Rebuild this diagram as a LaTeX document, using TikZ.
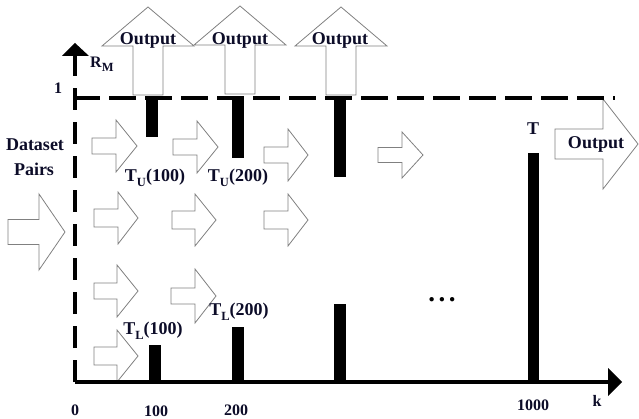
\documentclass[tikz,border=0pt]{standalone}
\usepackage{fontspec}
\setmainfont{Liberation Serif}
\definecolor{ink}{RGB}{12,12,40}
\definecolor{edge}{RGB}{128,128,128}
\newcommand\lowsub[1]{\raisebox{-0.25em}{\fontsize{12.5}{12.5}\selectfont #1}}
\begin{document}
\begin{tikzpicture}[x=1pt,y=-1pt,
  lbl/.style={font=\fontsize{18}{18}\selectfont\bfseries, text=ink, inner sep=0pt},
  ticklbl/.style={font=\fontsize{16}{16}\selectfont\bfseries, text=ink, inner sep=0pt},
  blk/.style={draw=edge, line width=0.8pt, fill=white, line join=miter},
  bar/.style={fill=black},
  pics/rarr/.style n args={4}{code={%
    \draw[blk] (0,-#4) -- ({#1-#2},-#4) -- ({#1-#2},-#3) -- (#1,0)
      -- ({#1-#2},#3) -- ({#1-#2},#4) -- (0,#4) -- cycle;}},
  pics/uarr/.style={code={%
    \draw[blk] (-15,88) -- (-15,39) -- (-46,39) -- (0,0) -- (46,39)
      -- (15,39) -- (15,88) -- cycle;}}
]
\useasboundingbox (0,0) rectangle (639,419);

% input arrow on the left
\pic at (8,232) {rarr={57}{26}{38}{12.5}};

% block arrows flowing between thresholds
\pic at (92,146)  {rarr={45}{21}{26}{8}};
\pic at (173,147) {rarr={45}{21}{26}{8}};
\pic at (264,155) {rarr={44}{20}{26}{8}};
\pic at (378,155) {rarr={45}{21}{23}{7.5}};
\pic at (94,218)  {rarr={44}{20}{26}{9}};
\pic at (172,220) {rarr={44}{21}{26}{9}};
\pic at (264,220) {rarr={44}{20}{26}{9}};
\pic at (94,291)  {rarr={44}{21}{26}{8}};
\pic at (171,296) {rarr={45}{21}{27}{8}};
\pic at (94,356)  {rarr={44}{21}{26}{9}};

% output arrows
\pic at (148,7) {uarr};
\pic at (240,6) {uarr};
\pic at (341,7) {uarr};
\pic at (555,144) {rarr={83}{35}{45}{15}};

% axes
\coordinate (O) at (75,382);
\coordinate (ytip) at (75,43);
\coordinate (xtip) at (622,382);
\draw[line width=3.5pt] (O) -- (608,382);
\fill (608,368) -- (xtip) -- (608,396) -- cycle;
\draw[line width=3.5pt, dash pattern=on 22pt off 12pt] (O) -- (75,56);
\fill (62,56) -- (ytip) -- (89,56) -- cycle;

% level R_M = 1
\draw[line width=4pt, dash pattern=on 27pt off 9pt] (73,98) -- (615,98);

% upper thresholds
\fill[bar] (146,96) rectangle (158,137);
\fill[bar] (232,96) rectangle (244,158);
\fill[bar] (334,96) rectangle (346,177);
% lower thresholds
\fill[bar] (149,345) rectangle (161,382);
\fill[bar] (232,327) rectangle (244,382);
\fill[bar] (334,304) rectangle (346,382);
% final threshold
\fill[bar] (528,153) rectangle (539,382);

% labels
\node[lbl] (outA) at (148,40) {Output};
\node[lbl] (outB) at (240,40) {Output};
\node[lbl] (outC) at (340,40) {Output};
\node[lbl] (outR) at (596,144) {Output};
\node[lbl] (ds) at (35,145) {Dataset};
\node[lbl] (pairs) at (34,169) {Pairs};
\node[lbl] (tu1) at (155,178) {T\lowsub{U}(100)};
\node[lbl] (tu2) at (238,178) {T\lowsub{U}(200)};
\node[lbl] (tl1) at (153,331) {T\lowsub{L}(100)};
\node[lbl] (tl2) at (239,312) {T\lowsub{L}(200)};
\node[lbl] (tT) at (533,129) {T};
\node[font=\fontsize{27}{27}\selectfont\bfseries, inner sep=0pt] (dots) at (442,300) {.\kern3.5pt.\kern3.5pt.};

\node[ticklbl, anchor=west] (rm) at (90,64) {R\lowsub{M}};
\node[ticklbl] (one) at (58,88) {1};
\node[ticklbl] (k0) at (75,410) {0};
\node[ticklbl] (k100) at (156,411) {100};
\node[ticklbl] (k200) at (236,410) {200};
\node[ticklbl] (k1000) at (533,405) {1000};
\node[ticklbl] (kk) at (597,401) {k};
\end{tikzpicture}
\end{document}
